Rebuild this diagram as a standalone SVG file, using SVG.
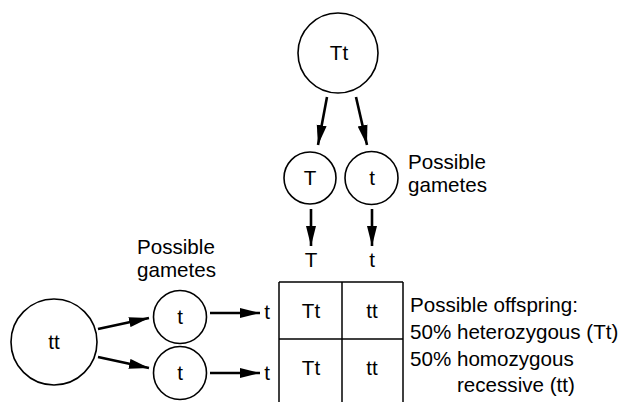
<svg xmlns="http://www.w3.org/2000/svg" width="626" height="402" viewBox="0 0 626 402">
  <defs>
    <style>
      .node circle { fill: #fff; stroke: #000; stroke-width: 1.6; }
      text { font-family: "Liberation Sans", Arial, sans-serif; font-size: 20.6px; fill: #000; }
      .c { text-anchor: middle; }
      .conn line { stroke: #000; stroke-width: 2.6; marker-end: url(#head); }
      .grid line { stroke: #000; stroke-width: 1.5; }
    </style>
    <marker id="head" markerUnits="userSpaceOnUse" markerWidth="20" markerHeight="11" refX="20" refY="5.5" orient="auto">
      <path d="M0,0.5 L20,5.5 L0,10.5 z" fill="#000"/>
    </marker>
  </defs>
  <rect width="626" height="402" fill="#fff"/>

  <!-- parent Tt -->
  <g id="parent-Tt" class="node">
    <circle cx="338" cy="53" r="40"/>
    <text class="c" x="339" y="60">Tt</text>
  </g>

  <!-- gametes of Tt -->
  <g id="gamete-T" class="node">
    <circle cx="310" cy="178" r="26"/>
    <text class="c" x="310" y="185">T</text>
  </g>
  <g id="gamete-t-top" class="node">
    <circle cx="371.5" cy="178" r="26.5"/>
    <text class="c" x="372" y="185">t</text>
  </g>
  <g id="label-gametes-top">
    <text x="408" y="169">Possible</text>
    <text x="408" y="192">gametes</text>
  </g>

  <!-- parent tt -->
  <g id="parent-tt" class="node">
    <circle cx="54" cy="342" r="43"/>
    <text class="c" x="54" y="349">tt</text>
  </g>

  <!-- gametes of tt -->
  <g id="gamete-t-upper" class="node">
    <circle cx="180" cy="317" r="26.5"/>
    <text class="c" x="180" y="324">t</text>
  </g>
  <g id="gamete-t-lower" class="node">
    <circle cx="180" cy="373" r="26.5"/>
    <text class="c" x="180" y="380">t</text>
  </g>
  <g id="label-gametes-left">
    <text x="137" y="254">Possible</text>
    <text x="137" y="277">gametes</text>
  </g>

  <!-- Punnett square -->
  <g id="punnett">
    <g class="grid">
      <line x1="279" y1="282" x2="403" y2="282"/>
      <line x1="279" y1="339" x2="403" y2="339"/>
      <line x1="279" y1="282" x2="279" y2="402"/>
      <line x1="342" y1="282" x2="342" y2="402"/>
      <line x1="403" y1="282" x2="403" y2="402"/>
    </g>
    <text class="c" x="311" y="267">T</text>
    <text class="c" x="372" y="267">t</text>
    <text class="c" x="267" y="319">t</text>
    <text class="c" x="267" y="380">t</text>
    <text class="c" x="311" y="318">Tt</text>
    <text class="c" x="372" y="318">tt</text>
    <text class="c" x="311" y="375">Tt</text>
    <text class="c" x="372" y="375">tt</text>
  </g>

  <!-- offspring summary -->
  <g id="label-offspring">
    <text x="410" y="312">Possible offspring:</text>
    <text x="410" y="339">50% heterozygous (Tt)</text>
    <text x="410" y="366">50% homozygous</text>
    <text x="457" y="392">recessive (tt)</text>
  </g>

  <!-- connectors -->
  <g id="connectors" class="conn">
    <line x1="327" y1="97" x2="318" y2="145"/>
    <line x1="356" y1="97" x2="367" y2="145"/>
    <line x1="311" y1="209" x2="311" y2="246"/>
    <line x1="372" y1="209" x2="372" y2="246"/>
    <line x1="98" y1="329" x2="149" y2="318"/>
    <line x1="98" y1="357" x2="149" y2="368"/>
    <line x1="210" y1="313" x2="260" y2="313"/>
    <line x1="210" y1="373" x2="260" y2="373"/>
  </g>
</svg>
